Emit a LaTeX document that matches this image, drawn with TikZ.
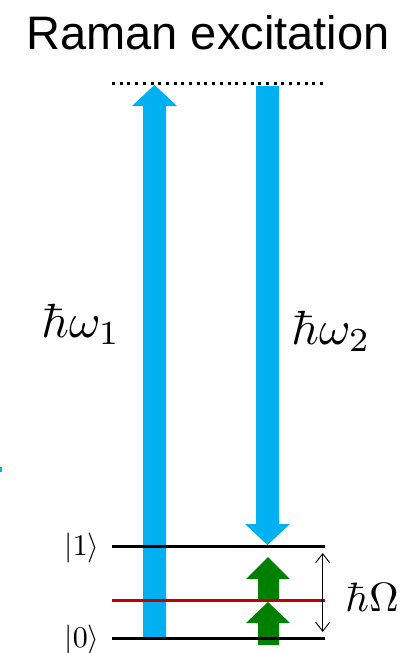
\documentclass[tikz,border=0pt]{standalone}
\usepackage{graphicx}
\usepackage[no-math]{fontspec}
\setmainfont{Liberation Sans}
\usetikzlibrary{arrows.meta}
\definecolor{beamblue}{RGB}{0,176,240}
\definecolor{pumpgreen}{RGB}{0,128,0}
\definecolor{levelred}{RGB}{192,0,0}
\tikzset{
  level/.style={line width=3pt},
  beam/.style={fill=beamblue, draw=none},
  pump/.style={fill=pumpgreen, draw=none},
  lbl/.style={inner sep=0pt, anchor=center},
}
\begin{document}
\begin{tikzpicture}[x=1pt,y=-1pt]
\useasboundingbox (0,0) rectangle (416,653);
% title
\node[lbl, font=\fontsize{47}{50}\selectfont] (title) at (208,33) {Raman excitation};
% virtual level
\coordinate (vL) at (112,83);
\coordinate (vR) at (324,83);
\draw[line width=3pt, dash pattern=on 3pt off 4.7pt] (vL) -- (vR);
% pump beam up (omega1)
\path[beam] (143,638) -- (143,106) -- (132,106) -- (154.5,85) -- (177,106) -- (166,106) -- (166,638) -- cycle;
% Stokes beam down (omega2)
\path[beam] (256,86) -- (256,524) -- (245,524) -- (267.5,545) -- (290,524) -- (279,524) -- (279,86) -- cycle;
% green arrows
\path[pump] (258,600) -- (258,579) -- (246,579) -- (268,557) -- (290,579) -- (279,579) -- (279,600) -- cycle;
\path[pump] (258,645) -- (258,623) -- (246,623) -- (268,602) -- (290,623) -- (279,623) -- (279,645) -- cycle;
% levels
\coordinate (l1L) at (112,546.7);
\coordinate (l1R) at (325,546.7);
\coordinate (lmL) at (112,600);
\coordinate (lmR) at (325,600);
\coordinate (l0L) at (112,638);
\coordinate (l0R) at (325,638);
\draw[level] (l1L) -- (l1R);
\draw[level, levelred] (lmL) -- (lmR);
\draw[level] (l0L) -- (l0R);
% energy gap arrow
\coordinate (gT) at (322.7,553);
\coordinate (gB) at (322.7,632);
\draw[line width=0.9pt, {Straight Barb[length=9pt,width=14pt]}-{Straight Barb[length=9pt,width=14pt]}] (gT) -- (gB);
% labels
\node[lbl] (k1) at (82,548) {\scalebox{3.0}{$|1\rangle$}};
\node[lbl] (k0) at (82,640) {\scalebox{3.0}{$|0\rangle$}};
\node[lbl] (w1) at (81,324) {\scalebox{4.8}{$\hbar\omega_1$}};
\node[lbl] (w2) at (331,331) {\scalebox{4.8}{$\hbar\omega_2$}};
\node[lbl] (hO) at (372,597) {\scalebox{4.1}{$\hbar\Omega$}};
% small speck
\path[beam] (0,467) rectangle (2,472);
\end{tikzpicture}
\end{document}
